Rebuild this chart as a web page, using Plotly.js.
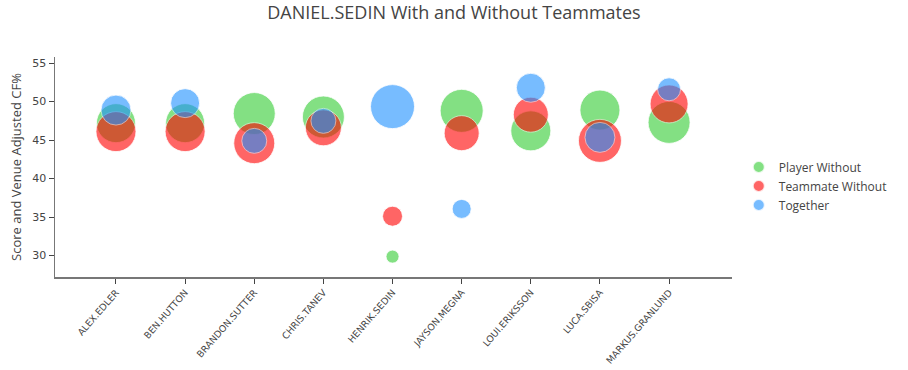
<!DOCTYPE html>
<html>
<head>
<meta charset="utf-8">
<script src="https://cdn.plot.ly/plotly-3.0.1.min.js"></script>
<style>body{margin:0;padding:0;background:#fff;}#chart{width:908px;height:370px;}</style>
</head>
<body>
<div id="chart"></div>
<script>
var players = ["ALEX.EDLER","BEN.HUTTON","BRANDON.SUTTER","CHRIS.TANEV","HENRIK.SEDIN","JAYSON.MEGNA","LOUI.ERIKSSON","LUCA.SBISA","MARKUS.GRANLUND"];
var playerWithout = [47.2, 47.2, 48.45, 48.0, 29.85, 48.8, 46.2, 48.9, 47.3];
var teammateWithout = [46.1, 46.1, 44.6, 46.6, 35.1, 45.9, 48.3, 44.9, 49.7];
var together = [48.9, 49.8, 44.9, 47.5, 49.35, 36.05, 51.8, 45.35, 51.6];
var playerWithoutSize = [39, 39, 42, 42, 13, 43, 40, 40, 42];
var teammateWithoutSize = [40, 40, 41, 36, 20, 35, 35, 43, 38];
var togetherSize = [30, 29, 25, 25, 44, 19, 29, 30, 23];

function trace(name, y, s, color) {
  return {
    type: 'scatter', mode: 'markers', name: name,
    x: players, y: y,
    marker: {size: s, sizemode: 'diameter', color: color, opacity: 0.6,
             line: {color: 'rgba(255,255,255,0.8)', width: 1}}
  };
}
var data = [
  trace('Player Without', playerWithout, playerWithoutSize, 'rgb(50,205,50)'),
  trace('Teammate Without', teammateWithout, teammateWithoutSize, 'rgb(255,0,0)'),
  trace('Together', together, togetherSize, 'rgb(30,144,255)')
];
var layout = {
  width: 908, height: 370,
  font: {family: 'Open Sans, DejaVu Sans, sans-serif', color: '#444', size: 12},
  title: {text: 'DANIEL.SEDIN With and Without Teammates', font: {size: 18, color: '#444'}, x: 0.5, xanchor: 'center', y: 0.984, yanchor: 'top'},
  margin: {l: 55, r: 176, t: 57, b: 93},
  showlegend: true,
  legend: {x: 1.01, y: 0.414, yanchor: 'middle', xanchor: 'left', font: {size: 12, color: '#444'}, itemsizing: 'constant'},
  xaxis: {
    type: 'category', range: [-0.882, 8.91],
    showgrid: false, zeroline: false, showline: true, linecolor: '#777', linewidth: 1.5,
    ticks: 'outside', ticklen: 5, tickcolor: '#444', tickangle: -49,
    tickfont: {size: 9.3, color: '#444', family: 'DejaVu Sans, sans-serif'}
  },
  yaxis: {
    range: [27.2, 55.8], tickvals: [30,35,40,45,50,55],
    showgrid: false, zeroline: false, showline: true, linecolor: '#777', linewidth: 1.5,
    ticks: 'outside', ticklen: 5, tickcolor: '#444',
    tickfont: {size: 11, color: '#444', family: 'DejaVu Sans, sans-serif'},
    title: {text: 'Score and Venue Adjusted CF%', font: {size: 13, color: '#444'}, standoff: 7}
  },
  plot_bgcolor: '#fff', paper_bgcolor: '#fff'
};
Plotly.newPlot('chart', data, layout, {displayModeBar: false, staticPlot: true});
</script>
</body>
</html>
